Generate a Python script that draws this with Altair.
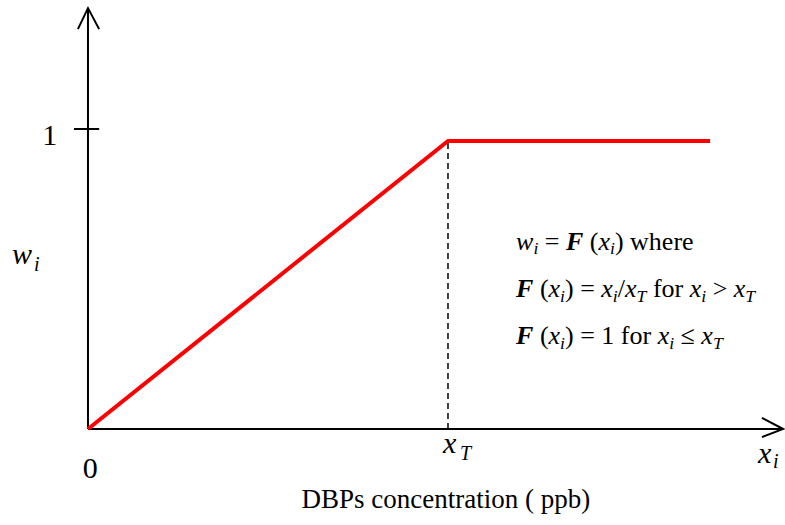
import altair as alt
import pandas as pd

# ---- data (x in units of threshold concentration xT, y = weight w_i) ----
curve_x = [0.0, 1.0, 1.728]
curve_y = [0.0, 0.96, 0.96]
threshold_x = [1.0]
threshold_top = [0.96]

# axes (data units)
axis_x1 = [0.0, 0.0, -0.039]
axis_y1 = [0.0, 0.0, 1.0]
axis_x2 = [1.931, 0.0, 0.031]
axis_y2 = [0.0, 1.403, 1.0]

# arrow heads: polyline points
arrow_id = ["y", "y", "y", "x", "x", "x"]
arrow_ord = [0, 1, 2, 0, 1, 2]
arrow_x = [-0.028, 0.0, 0.031, 1.872, 1.931, 1.872]
arrow_y = [1.333, 1.403, 1.333, 0.037, 0.0, -0.027]

# annotation lines: (text, style) runs; it=italic, bi=bold italic, n=normal, sub=italic subscript
line1 = [("w", "it"), ("i", "sub"), (" = ", "n"), ("F", "bi"), (" (", "n"), ("x", "it"),
         ("i", "sub"), (") where", "n")]
line2 = [("F", "bi"), (" (", "n"), ("x", "it"), ("i", "sub"), (") = ", "n"), ("x", "it"),
         ("i", "sub"), ("/", "n"), ("x", "it"), ("T", "sub"), (" for ", "n"), ("x", "it"),
         ("i", "sub"), (" > ", "n"), ("x", "it"), ("T", "sub")]
line3 = [("F", "bi"), (" (", "n"), ("x", "it"), ("i", "sub"), (") = 1 for ", "n"), ("x", "it"),
         ("i", "sub"), (" ≤ ", "n"), ("x", "it"), ("T", "sub")]
ann_lines = [line1, line2, line3]
ann_x0 = 1.189                    # left edge of the annotation block (data units)
ann_baselines = [0.597, 0.44, 0.283]

# axis labels
lab_text = ["w", "i", "x", "T", "x", "i"]
lab_x = [-0.211, -0.150, 0.986, 1.033, 1.861, 1.903]
lab_y = [0.55, 0.527, -0.08, -0.103, -0.113, -0.13]
lab_style = ["it", "sub", "it", "sub", "it", "sub"]
num_text = ["1", "0"]
num_x = [-0.106, 0.006]
num_y = [0.947, -0.163]
title_text = ["DBPs concentration ( ppb)"]
title_x = [0.994]
title_y = [-0.263]

XDOM = [-0.2444, 1.9361]
YDOM = [-0.32, 1.43]
W, H = 785, 525
xs = alt.Scale(domain=XDOM, nice=False, zero=False)
ys = alt.Scale(domain=YDOM, nice=False, zero=False)
FONT = "Liberation Serif"
ANN = 26.0
SUB = ANN * 0.68

# Times / Liberation Serif advance widths (em)
NORMAL_W = {" ": 0.25, "(": 0.333, ")": 0.333, "=": 0.564, ">": 0.564, "≤": 0.549, "/": 0.278,
            "1": 0.5, "f": 0.333, "o": 0.5, "r": 0.333, "w": 0.722, "h": 0.5, "e": 0.444}
ITAL_W = {"w": 0.667, "x": 0.444, "i": 0.278, "T": 0.556}
BI_W = {"F": 0.667}


def run_width(t, s):
    if s == "n":
        return sum(NORMAL_W.get(c, 0.5) for c in t) * ANN
    if s == "bi":
        return sum(BI_W.get(c, 0.667) for c in t) * ANN
    if s == "it":
        return sum(ITAL_W.get(c, 0.5) for c in t) * ANN
    return sum(ITAL_W.get(c, 0.5) for c in t) * SUB


px_per_x = W / (XDOM[1] - XDOM[0])
px_per_y = H / (YDOM[1] - YDOM[0])
rows = []
for line, base in zip(ann_lines, ann_baselines):
    cx = ann_x0
    for t, s in line:
        yy = base - (4.5 / px_per_y if s == "sub" else 0.0)
        lead = len(t) - len(t.lstrip(" "))
        off = run_width(" " * lead, "n") / px_per_x
        rows.append({"t": t.strip(" "), "x": cx + off, "y": yy, "s": s})
        cx += run_width(t, s) / px_per_x
seg_df = pd.DataFrame(rows)


def X(f="x"):
    return alt.X(f"{f}:Q", scale=xs, axis=None)


def Y(f="y"):
    return alt.Y(f"{f}:Q", scale=ys, axis=None)


axes_df = pd.DataFrame({"x": axis_x1, "y": axis_y1, "x2": axis_x2, "y2": axis_y2})
axes = alt.Chart(axes_df).mark_rule(color="black", strokeWidth=2).encode(
    x=X(), y=Y(), x2="x2:Q", y2="y2:Q")

arr_df = pd.DataFrame({"id": arrow_id, "o": arrow_ord, "x": arrow_x, "y": arrow_y})
arrows = alt.Chart(arr_df).mark_line(color="black", strokeWidth=2).encode(
    x=X(), y=Y(), detail="id:N", order="o:Q")

thr_df = pd.DataFrame({"x": threshold_x, "y": [0.0], "y2": threshold_top})
thr = alt.Chart(thr_df).mark_rule(color="black", strokeWidth=1.5, strokeDash=[6, 4]).encode(
    x=X(), y=Y(), y2="y2:Q")

cur_df = pd.DataFrame({"x": curve_x, "y": curve_y, "o": [0, 1, 2]})
curve = alt.Chart(cur_df).mark_line(color="#ff0000", strokeWidth=4).encode(
    x=X(), y=Y(), order="o:Q")

lab_df = pd.DataFrame({"t": lab_text, "x": lab_x, "y": lab_y, "s": lab_style})

styles = {
    "n": dict(fontStyle="normal", fontWeight="normal"),
    "it": dict(fontStyle="italic", fontWeight="normal"),
    "bi": dict(fontStyle="italic", fontWeight="bold"),
    "sub": dict(fontStyle="italic", fontWeight="normal"),
}


def text_layers(df, size, subsize):
    out = []
    for s, kw in styles.items():
        d = df[df["s"] == s]
        if len(d) == 0:
            continue
        out.append(alt.Chart(d).mark_text(
            align="left", baseline="alphabetic", font=FONT, color="black",
            fontSize=subsize if s == "sub" else size, **kw).encode(
            x=X(), y=Y(), text="t:N"))
    return out


num_df = pd.DataFrame({"t": num_text, "x": num_x, "y": num_y})
nums = alt.Chart(num_df).mark_text(align="center", baseline="alphabetic", font=FONT,
                                   fontSize=30, color="black").encode(x=X(), y=Y(), text="t:N")
ttl_df = pd.DataFrame({"t": title_text, "x": title_x, "y": title_y})
ttl = alt.Chart(ttl_df).mark_text(align="center", baseline="alphabetic", font=FONT,
                                  fontSize=27, color="black").encode(x=X(), y=Y(), text="t:N")

layers = [axes, arrows, thr, curve, nums, ttl] + text_layers(seg_df, ANN, SUB) + text_layers(lab_df, 30, 20)

chart = alt.layer(*layers).properties(
    width=W, height=H, autosize=alt.AutoSizeParams(type="none"), padding=0,
    background="white"
).configure_view(stroke=None)

chart.save("out.html", embed_options={"renderer": "svg", "actions": False})
